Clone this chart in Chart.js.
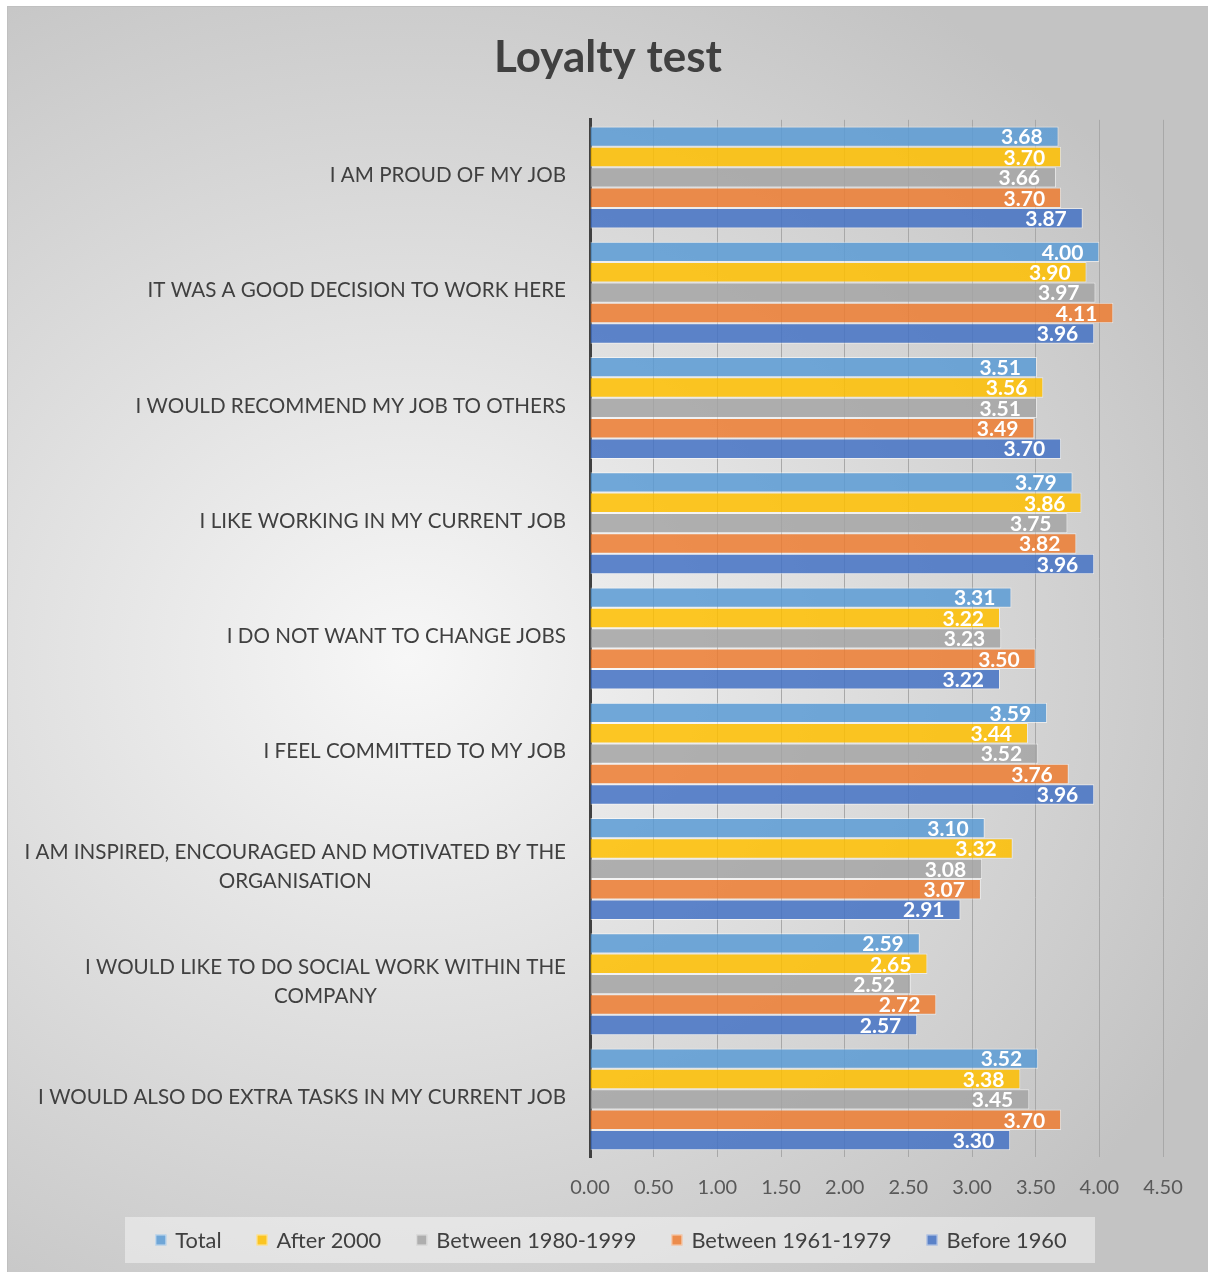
<!DOCTYPE html>
<html>
<head>
<meta charset="utf-8">
<title>Loyalty test</title>
<script src="https://cdn.jsdelivr.net/npm/chart.js@4.4.0/dist/chart.umd.min.js"></script>
<style>
  body { margin: 0; background: #fff; }
  #wrap {
    position: absolute; left: 7px; top: 6px; width: 1200px; height: 1265px;
    border-left: 1px solid #c0c0c0; border-top: 1px solid #c0c0c0;
    background: radial-gradient(ellipse 900px 800px at 400px 650px, #f7f7f7 0%, #c3c3c3 100%);
  }
  canvas { position: absolute; left: 0; top: 0; }
</style>
</head>
<body>
<div id="wrap"><canvas id="myChart" width="1200" height="1265"></canvas></div>
<script>
// questions (top to bottom)
const categories = [
  'I AM PROUD OF MY JOB',
  'IT WAS A GOOD DECISION TO WORK HERE',
  'I WOULD RECOMMEND MY JOB TO OTHERS',
  'I LIKE WORKING IN MY CURRENT JOB',
  'I DO NOT WANT TO CHANGE JOBS',
  'I FEEL COMMITTED TO MY JOB',
  ['I AM INSPIRED, ENCOURAGED AND MOTIVATED BY THE', 'ORGANISATION'],
  ['I WOULD LIKE TO DO SOCIAL WORK WITHIN THE', 'COMPANY'],
  'I WOULD ALSO DO EXTRA TASKS IN MY CURRENT JOB'
];

const total      = [3.68, 4.00, 3.51, 3.79, 3.31, 3.59, 3.10, 2.59, 3.52];
const after2000  = [3.70, 3.90, 3.56, 3.86, 3.22, 3.44, 3.32, 2.65, 3.38];
const b1980_1999 = [3.66, 3.97, 3.51, 3.75, 3.23, 3.52, 3.08, 2.52, 3.45];
const b1961_1979 = [3.70, 4.11, 3.49, 3.82, 3.50, 3.76, 3.07, 2.72, 3.70];
const before1960 = [3.87, 3.96, 3.70, 3.96, 3.22, 3.96, 2.91, 2.57, 3.30];

const seriesNames = ['Total', 'After 2000', 'Between 1980-1999', 'Between 1961-1979', 'Before 1960'];
const seriesColors = [
  'rgba(91, 155, 213, 0.85)',
  'rgba(255, 192, 0, 0.85)',
  'rgba(165, 165, 165, 0.85)',
  'rgba(237, 125, 49, 0.85)',
  'rgba(68, 114, 196, 0.85)'
];

const xMax = 4.5;
const xStep = 0.5;

const FONT = 'Lato, "Open Sans", sans-serif';

// white value at the end of each bar
const barLabels = {
  id: 'barLabels',
  afterDatasetsDraw(chart) {
    const ctx = chart.ctx;
    ctx.save();
    ctx.font = 'bold 21px ' + FONT;
    ctx.fillStyle = '#ffffff';
    ctx.textAlign = 'right';
    ctx.textBaseline = 'middle';
    chart.data.datasets.forEach(function(ds, i) {
      chart.getDatasetMeta(i).data.forEach(function(bar, j) {
        ctx.fillText(ds.data[j].toFixed(2), bar.x - 16, bar.y + 1);
      });
    });
    ctx.restore();
  }
};

// category labels: block right-aligned, wrapped lines centred
const catLabels = {
  id: 'catLabels',
  afterDraw(chart) {
    const ctx = chart.ctx;
    const yScale = chart.scales.y;
    const right = chart.chartArea.left - 24;
    const lineH = 29;
    ctx.save();
    ctx.font = '20.6px ' + FONT;
    ctx.fillStyle = '#404040';
    ctx.textAlign = 'center';
    ctx.textBaseline = 'middle';
    categories.forEach(function(lab, i) {
      const lines = Array.isArray(lab) ? lab : [lab];
      const w = Math.max.apply(null, lines.map(function(l) { return ctx.measureText(l).width; }));
      const cx = right - w / 2;
      const cy = yScale.getPixelForValue(i) - 2;
      lines.forEach(function(l, k) {
        ctx.fillText(l, cx, cy + (k - (lines.length - 1) / 2) * lineH);
      });
    });
    ctx.restore();
  }
};

// legend in a light box at the bottom
const boxLegend = {
  id: 'boxLegend',
  afterDraw(chart) {
    const ctx = chart.ctx;
    ctx.save();
    ctx.fillStyle = 'rgba(244, 244, 244, 0.55)';
    ctx.fillRect(117, 1210, 970, 46);
    ctx.font = '21.8px ' + FONT;
    ctx.textBaseline = 'middle';
    const box = 11, gap = 9, itemGap = 35;
    const widths = seriesNames.map(function(n) { return box + gap + ctx.measureText(n).width; });
    const totalW = widths.reduce(function(a, b) { return a + b; }, 0) + itemGap * (seriesNames.length - 1);
    let x = 603 - totalW / 2;
    const cy = 1233;
    seriesNames.forEach(function(n, i) {
      ctx.fillStyle = seriesColors[i];
      ctx.fillRect(x, cy - box / 2, box, box);
      ctx.strokeStyle = 'rgba(255,255,255,0.6)';
      ctx.lineWidth = 1;
      ctx.strokeRect(x + 0.5, cy - box / 2 + 0.5, box - 1, box - 1);
      ctx.fillStyle = '#404040';
      ctx.textAlign = 'left';
      ctx.fillText(n, x + box + gap, cy + 1);
      x += widths[i] + itemGap;
    });
    ctx.restore();
  }
};

const seriesData = [total, after2000, b1980_1999, b1961_1979, before1960];

const ctx = document.getElementById('myChart').getContext('2d');
const myChart = new Chart(ctx, {
  type: 'bar',
  data: {
    labels: categories,
    datasets: seriesData.map(function(d, i) {
      return {
        label: seriesNames[i],
        data: d,
        backgroundColor: seriesColors[i],
        borderColor: 'rgba(255, 255, 255, 0.55)',
        borderWidth: 1,
        categoryPercentage: 0.885,
        barPercentage: 1.0
      };
    })
  },
  options: {
    indexAxis: 'y',
    responsive: false,
    animation: false,
    layout: { padding: { top: 0, right: 45, bottom: 0, left: 45 } },
    plugins: {
      legend: { display: false },
      tooltip: { enabled: false },
      title: {
        display: true,
        text: 'Loyalty test',
        color: '#404040',
        font: { family: FONT, size: 44, weight: 'bold' },
        padding: { top: 24, bottom: 36 }
      }
    },
    scales: {
      x: {
        min: 0,
        max: xMax,
        afterFit: function(scale) { scale.height = 115; },
        grid: { color: '#a8a8a8', lineWidth: 1, drawTicks: false },
        border: { display: false },
        ticks: {
          stepSize: xStep,
          padding: 19,
          color: '#595959',
          font: { family: FONT, size: 20 },
          callback: function(v) { return Number(v).toFixed(2); }
        }
      },
      y: {
        afterFit: function(scale) { scale.width = 537; },
        grid: { display: false },
        border: { display: true, color: '#404040', width: 3 },
        ticks: { display: false }
      }
    }
  },
  plugins: [barLabels, catLabels, boxLegend]
});
</script>
</body>
</html>
